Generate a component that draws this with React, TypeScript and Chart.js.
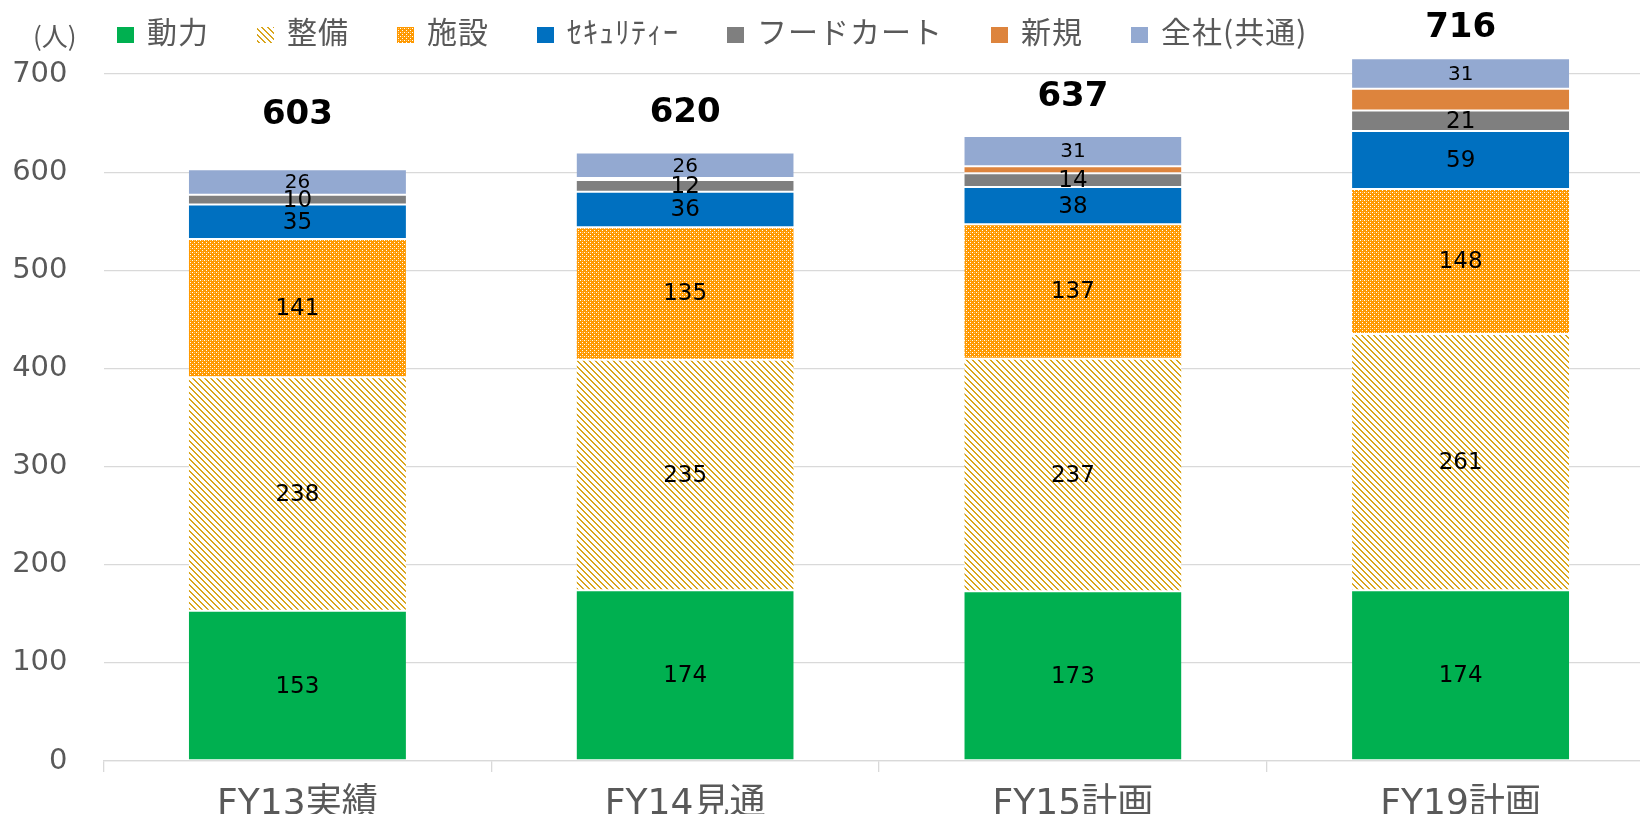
import React, { useEffect, useRef } from "react";
import { Chart, registerables } from "chart.js";
Chart.register(...registerables);

const CATEGORIES = ["FY13実績", "FY14見通", "FY15計画", "FY19計画"];
const SERIES_NAMES = ["動力", "整備", "施設", "ｾｷｭﾘﾃｨｰ", "フードカート", "新規", "全社(共通)"];
const DORYOKU = [153, 174, 173, 174];
const SEIBI = [238, 235, 237, 261];
const SHISETSU = [141, 135, 137, 148];
const SECURITY = [35, 36, 38, 59];
const FOODCART = [10, 12, 14, 21];
const SHINKI = [0, 2, 7, 22];
const ZENSHA = [26, 26, 31, 31];
const TOTALS = [603, 620, 637, 716];
const Y_TICKS = [0, 100, 200, 300, 400, 500, 600, 700];
const Y_UNIT = "(人)";

const LATIN = "'DejaVu Sans', 'Noto Sans CJK JP', sans-serif";
const CJK = "'Noto Sans CJK JP', 'DejaVu Sans', sans-serif";
const GRAY_TEXT = "#595959";

function stripePattern(): CanvasPattern | string {
  const c = document.createElement("canvas");
  c.width = 6;
  c.height = 6;
  const g = c.getContext("2d");
  if (!g) return "#e0b040";
  g.fillStyle = "#ffffff";
  g.fillRect(0, 0, 6, 6);
  g.fillStyle = "#d9a51c";
  for (let i = 0; i < 6; i++) {
    g.fillRect(i, i, 1, 1);
    g.fillRect((i + 1) % 6, i, 1, 1);
  }
  return g.createPattern(c, "repeat") || "#e0b040";
}

function checkPattern(): CanvasPattern | string {
  const c = document.createElement("canvas");
  c.width = 4;
  c.height = 4;
  const g = c.getContext("2d");
  if (!g) return "#ffa820";
  g.fillStyle = "#ff9900";
  g.fillRect(0, 0, 4, 4);
  g.fillStyle = "#ffffff";
  g.fillRect(0, 0, 1, 1);
  g.fillRect(2, 2, 1, 1);
  g.fillStyle = "#ffc46a";
  g.fillRect(2, 0, 1, 1);
  return g.createPattern(c, "repeat") || "#ffa820";
}

export default function App() {
  const ref = useRef<HTMLCanvasElement | null>(null);

  useEffect(() => {
    if (!ref.current) return;
    const stripes = stripePattern();
    const checks = checkPattern();
    const fills = ["#00b050", stripes, checks, "#0070c0", "#7f7f7f", "#dd843d", "#93a9d1"];
    const values = [DORYOKU, SEIBI, SHISETSU, SECURITY, FOODCART, SHINKI, ZENSHA];
    const labelSizes = [23, 23, 23, 23, 23, 0, 20];

    const datasets = values.map((v, i) => ({
      label: SERIES_NAMES[i],
      data: v,
      backgroundColor: fills[i] as any,
      borderColor: "#ffffff",
      borderWidth: { top: 1, bottom: 1, left: 0, right: 0 },
      borderSkipped: false as any,
      categoryPercentage: 1,
      barPercentage: 0.56,
      labelSize: labelSizes[i],
    }));

    const labelPlugin = {
      id: "segLabels",
      afterDatasetsDraw(chart: any) {
        const ctx = chart.ctx;
        ctx.save();
        ctx.textAlign = "center";
        ctx.textBaseline = "middle";
        ctx.fillStyle = "#000000";
        chart.data.datasets.forEach((ds: any, di: number) => {
          if (!ds.labelSize) return;
          const meta = chart.getDatasetMeta(di);
          ctx.font = `${ds.labelSize}px ${LATIN}`;
          meta.data.forEach((el: any, i: number) => {
            const p = el.getProps(["x", "y", "base"], true);
            ctx.fillText(String(ds.data[i]), p.x, (p.y + p.base) / 2 + 1);
          });
        });
        const xs = chart.scales.x;
        const ys = chart.scales.y;
        const offsets = [54, 39, 39, 30];
        ctx.font = `bold 34px ${LATIN}`;
        TOTALS.forEach((t, i) => {
          ctx.fillText(String(t), xs.getPixelForValue(i), ys.getPixelForValue(t) - offsets[i]);
        });
        ctx.restore();
      },
      afterDraw(chart: any) {
        const ctx = chart.ctx;
        ctx.save();
        ctx.textBaseline = "middle";
        ctx.textAlign = "left";
        ctx.fillStyle = GRAY_TEXT;
        ctx.font = `26px ${CJK}`;
        ctx.fillText(Y_UNIT, 33, 36);
        ctx.font = `30px ${CJK}`;
        (ctx as any).letterSpacing = "1px";
        let x = 117;
        const cy = 31.5;
        SERIES_NAMES.forEach((name, i) => {
          ctx.fillStyle = fills[i] as any;
          ctx.fillRect(x, 27, 17, 16);
          ctx.fillStyle = GRAY_TEXT;
          const tx = x + 30;
          ctx.fillText(name, tx, cy);
          x = tx + ctx.measureText(name).width + 48;
        });
        ctx.restore();
      },
    };

    const chart = new Chart(ref.current, {
      type: "bar",
      data: { labels: CATEGORIES, datasets: datasets as any },
      options: {
        animation: false,
        responsive: true,
        maintainAspectRatio: false,
        layout: { padding: { left: 0, right: 15.5, top: 25, bottom: 0 } },
        plugins: { legend: { display: false }, tooltip: { enabled: false } },
        scales: {
          x: {
            stacked: true,
            offset: true,
            grid: {
              display: true,
              drawOnChartArea: false,
              drawTicks: true,
              tickLength: 11,
              color: "#d9d9d9",
              lineWidth: 1.3,
              offset: true,
            },
            border: { display: true, color: "#d9d9d9", width: 1.3 },
            ticks: { font: { size: 36, family: LATIN }, color: GRAY_TEXT, padding: 11, maxRotation: 0 },
            afterFit: (s: any) => {
              s.height = 53;
              s.paddingLeft = 0;
              s.paddingRight = 0;
            },
          },
          y: {
            stacked: true,
            min: 0,
            max: 750,
            ticks: { stepSize: 100, padding: 36, color: GRAY_TEXT, font: { size: 29, family: LATIN } },
            afterBuildTicks: (s: any) => {
              s.ticks = Y_TICKS.map((v) => ({ value: v }));
            },
            grid: { color: "#d9d9d9", lineWidth: 1.3, drawTicks: false },
            border: { display: false },
            afterFit: (s: any) => {
              s.width = 103.5;
              s.paddingTop = 0;
              s.paddingBottom = 0;
            },
          },
        },
      },
      plugins: [labelPlugin],
    });
    return () => chart.destroy();
  }, []);

  return (
    <div style={{ position: "absolute", left: 0, top: 0, width: 1640, height: 814, overflow: "hidden", background: "#fff" }}>
      <div style={{ position: "relative", width: 1670, height: 814 }}>
        <canvas ref={ref} />
      </div>
    </div>
  );
}
